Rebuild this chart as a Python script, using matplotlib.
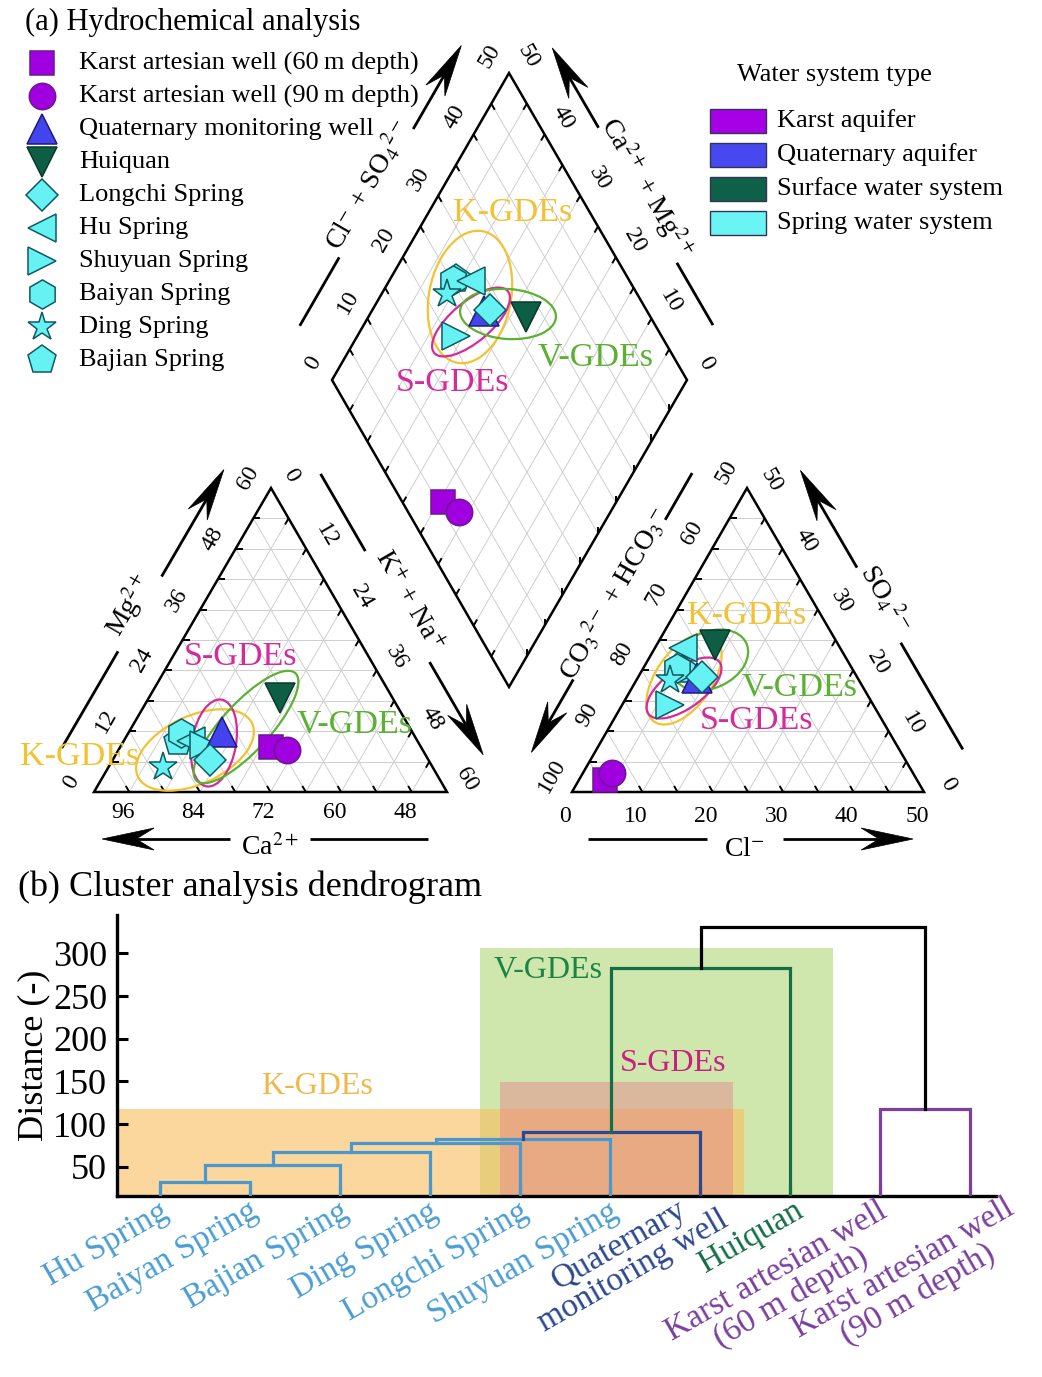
import numpy as np
import matplotlib
matplotlib.use('Agg')
import matplotlib.pyplot as plt
from matplotlib.patches import Ellipse, Rectangle, Polygon
from matplotlib.transforms import ScaledTranslation

plt.rcParams['font.family'] = ['Liberation Serif', 'DejaVu Serif']
plt.rcParams['mathtext.fontset'] = 'stix'

# ---------------- data ----------------
samples = ['Karst artesian well (60 m depth)', 'Karst artesian well (90 m depth)',
           'Quaternary monitoring well', 'Huiquan', 'Longchi Spring', 'Hu Spring',
           'Shuyuan Spring', 'Baiyan Spring', 'Ding Spring', 'Bajian Spring']
# cations (meq %)
mg_pct = np.array([8.9, 8.3, 11.8, 18.6, 6.3, 10.0, 9.3, 11.6, 4.9, 9.9])
nak_pct = np.array([25.6, 28.7, 15.9, 22.3, 16.6, 11.5, 14.0, 8.9, 9.2, 9.3])
ca_pct = 100 - mg_pct - nak_pct
# anions (meq %)
so4_pct = np.array([2.0, 3.1, 18.7, 24.2, 18.9, 23.7, 14.3, 20.4, 18.4, 20.1])
cl_pct = np.array([3.7, 4.1, 8.4, 8.3, 9.1, 4.0, 6.8, 4.8, 4.8, 5.7])
hco3_pct = 100 - so4_pct - cl_pct

water_types = ['Karst aquifer', 'Quaternary aquifer', 'Surface water system', 'Spring water system']
type_colors = ['#a800e6', '#4848f0', '#0e6048', '#6af4f4']

# dendrogram
leaves = ['Hu Spring', 'Baiyan Spring', 'Bajian Spring', 'Ding Spring', 'Longchi Spring',
          'Shuyuan Spring', 'Quaternary\nmonitoring well', 'Huiquan',
          'Karst artesian well\n(60 m depth)', 'Karst artesian well\n(90 m depth)']
# (child a, child b, distance); ids >= 10 refer to earlier merges
merges = [(0, 1, 32.0), (10, 2, 52.0), (11, 3, 67.6), (12, 4, 77.4), (13, 5, 82.0),
          (14, 6, 90.6), (15, 7, 283.2), (8, 9, 117.3), (16, 17, 330.6)]
yticks = [50, 100, 150, 200, 250, 300]

# ---------------- styles ----------------
spring_face, spring_edge = '#66f2f2', '#0e5a62'
mstyle = [
    dict(marker='s', ms=17, mfc='#a000e0', mec='#6a1a8a'),
    dict(marker='o', ms=19, mfc='#a000e0', mec='#6a1a8a'),
    dict(marker='^', ms=22, mfc='#4444ee', mec='#1c1c7a'),
    dict(marker='v', ms=22, mfc='#0d5e45', mec='#073a2a'),
    dict(marker='D', ms=16.5, mfc=spring_face, mec=spring_edge),
    dict(marker='<', ms=20, mfc=spring_face, mec=spring_edge),
    dict(marker='>', ms=20, mfc=spring_face, mec=spring_edge),
    dict(marker='h', ms=21, mfc=spring_face, mec=spring_edge),
    dict(marker='*', ms=21, mfc=spring_face, mec=spring_edge),
    dict(marker='p', ms=21.5, mfc=spring_face, mec=spring_edge),
]
COL_K, COL_S, COL_V = '#f2c232', '#d42a9c', '#5cb032'
GRID = '#cfcfcf'
TICKFS = 17
AXFS = 20
LEGFS = 19

fig = plt.figure(figsize=(10.42, 13.77), dpi=100)
H_TOP = 870
ax = fig.add_axes([0, 1 - H_TOP / 1377, 1, H_TOP / 1377])
ax.set_xlim(0, 1042)
ax.set_ylim(H_TOP, 0)
ax.axis('off')

# ---------------- geometry (pixel layout) ----------------
C_BL, C_BR, C_TOP = np.array([94., 792.]), np.array([447., 792.]), np.array([271., 488.])
A_BL, A_BR, A_TOP = np.array([572., 792.]), np.array([924., 792.]), np.array([747., 488.])
D_L, D_T, D_R, D_B = np.array([332., 380.]), np.array([509., 73.]), np.array([687., 380.]), np.array([509., 687.])
CAT_RANGE, AN_RANGE, DIA_RANGE = 60.0, 50.0, 50.0


def cat_xy(mg, nak):
    return C_BL + (mg / CAT_RANGE)[..., None] * (C_TOP - C_BL) + (nak / CAT_RANGE)[..., None] * (C_BR - C_BL)


def an_xy(so4, cl):
    return A_BL + (so4 / AN_RANGE)[..., None] * (A_TOP - A_BL) + (cl / AN_RANGE)[..., None] * (A_BR - A_BL)


def dia_xy(clso4, nak):
    return D_L + (clso4 / DIA_RANGE)[..., None] * (D_T - D_L) + (nak / DIA_RANGE)[..., None] * (D_B - D_L)


def seg(p, q, **kw):
    ax.plot([p[0], q[0]], [p[1], q[1]], solid_capstyle='butt', **kw)


def tri_frame(P1, P2, P3):
    for i in range(1, 10):
        f = i / 10
        for a, b, c in [(P1, P2, P3), (P2, P3, P1), (P3, P1, P2)]:
            seg(a + f * (b - a), a + f * (c - a), color=GRID, lw=0.7, zorder=1)
    ax.add_patch(Polygon([P1, P2, P3], closed=True, fill=False, ec='black', lw=1.8, zorder=3,
                         joinstyle='miter'))


def ticks_on(P0, P1, dirvec, n=10, L=7):
    d = dirvec / np.linalg.norm(dirvec)
    for i in range(1, n):
        p = P0 + i / n * (P1 - P0)
        seg(p, p + L * d, color='black', lw=1.4, zorder=3)


# triangles
tri_frame(C_BL, C_BR, C_TOP)
tri_frame(A_BL, A_BR, A_TOP)
ticks_on(C_BL, C_BR, C_TOP - C_BR)
ticks_on(C_BL, C_TOP, C_BR - C_BL)
ticks_on(C_TOP, C_BR, C_BL - C_TOP)
ticks_on(A_BL, A_BR, A_TOP - A_BR)
ticks_on(A_BL, A_TOP, A_BR - A_BL)
ticks_on(A_TOP, A_BR, A_BL - A_TOP)

# diamond
for i in range(1, 10):
    f = i / 10
    seg(D_L + f * (D_B - D_L), D_T + f * (D_R - D_T), color=GRID, lw=0.7, zorder=1)
    seg(D_L + f * (D_T - D_L), D_B + f * (D_R - D_B), color=GRID, lw=0.7, zorder=1)
ax.add_patch(Polygon([D_L, D_T, D_R, D_B], closed=True, fill=False, ec='black', lw=1.8, zorder=3,
                     joinstyle='miter'))
ticks_on(D_L, D_T, D_B - D_L)
ticks_on(D_T, D_R, D_B - D_R)
ticks_on(D_L, D_B, D_T - D_L)
ticks_on(D_B, D_R, D_T - D_B)


# ---------------- tick labels ----------------
def lab(p, s, off, rot, fs=TICKFS):
    ax.text(p[0] + off[0], p[1] + off[1], s, rotation=rot, ha='center', va='center',
            fontsize=fs, rotation_mode='anchor', zorder=5)


for v in [96, 84, 72, 60, 48]:
    lab(C_BL + (100 - v) / CAT_RANGE * (C_BR - C_BL), str(v), (5, 21), 0)
for v in [0, 12, 24, 36, 48, 60]:
    lab(C_BL + v / CAT_RANGE * (C_TOP - C_BL), str(v), (-23, -10), 60)
    lab(C_TOP + v / CAT_RANGE * (C_BR - C_TOP), str(v), (20, -13), -60)
for v in [0, 10, 20, 30, 40, 50]:
    lab(A_BL + v / AN_RANGE * (A_BR - A_BL), str(v), (-7, 25), 0)
    lab(A_BR + v / AN_RANGE * (A_TOP - A_BR), str(v), (24, -8), -60)
    lab(D_L + v / DIA_RANGE * (D_T - D_L), str(v), (-19, -17), 60)
    lab(D_R + v / DIA_RANGE * (D_T - D_R), str(v), (19, -17), -60)
for v in [100, 90, 80, 70, 60, 50]:
    lab(A_BL + (100 - v) / AN_RANGE * (A_TOP - A_BL), str(v), (-20, -16), 60)


# ---------------- axis arrows ----------------
def arrow_axis(P0, P1, t0, g0, g1, t1, d, label, tl, dl, rot, normal_sign=1):
    e = P1 - P0
    u = e / np.linalg.norm(e)
    nrm = np.array([u[1], -u[0]]) * normal_sign
    base = lambda t, dd=d: P0 + t * e + dd * nrm
    seg(base(t0), base(g0), color='black', lw=2.0, zorder=3)
    tip = base(t1)
    L, W, notch = 52, 11, 18
    seg(base(g1), tip - (L - notch) * u, color='black', lw=2.0, zorder=3)
    w = np.array([-u[1], u[0]])
    head = [tip, tip - L * u + W * w, tip - (L - notch) * u, tip - L * u - W * w]
    ax.add_patch(Polygon(head, closed=True, fc='black', ec='black', lw=0.5, zorder=4))
    p = P0 + tl * e + dl * nrm
    ax.text(p[0], p[1], label, rotation=rot, ha='center', va='center', fontsize=AXFS,
            rotation_mode='anchor', zorder=5)


def pick_sign(P0, P1, centroid):
    e = P1 - P0
    u = e / np.linalg.norm(e)
    nrm = np.array([u[1], -u[0]])
    mid = (P0 + P1) / 2
    return 1 if np.dot(mid - centroid, nrm) > 0 else -1


cc = (C_BL + C_BR + C_TOP) / 3
ac = (A_BL + A_BR + A_TOP) / 3
dc = (D_L + D_R) / 2
specs = [
    (C_BR, C_BL, 0.054, 0.388, 0.615, 0.977, 47, r'Ca$^{2+}$', 0.50, 56, 0, cc),
    (C_BL, C_TOP, 0.062, 0.38, 0.626, 0.978, 50, r'Mg$^{2+}$', 0.51, 64, 60, cc),
    (C_TOP, C_BR, 0.036, 0.29, 0.655, 0.96, 50, r'K$^{+}$ + Na$^{+}$', 0.474, 62, -60, cc),
    (A_BL, A_BR, 0.045, 0.384, 0.60, 0.969, 47, r'Cl$^{-}$', 0.49, 58, 0, ac),
    (A_TOP, A_BL, 0.041, 0.195, 0.72, 0.96, 55, r'CO$_3$$^{2-}$ + HCO$_3$$^{-}$', 0.45, 62, 60, ac),
    (A_BR, A_TOP, 0.049, 0.40, 0.647, 0.967, 55, r'SO$_4$$^{2-}$', 0.53, 64, -60, ac),
    (D_L, D_T, 0.087, 0.31, 0.728, 1.0, 55, r'Cl$^{-}$ + SO$_4$$^{2-}$', 0.528, 66, 60, dc),
    (D_R, D_T, 0.097, 0.30, 0.74, 1.0, 50, r'Ca$^{2+}$ + Mg$^{2+}$', 0.527, 62, -60, dc),
]
for P0, P1, t0, g0, g1, t1, d, labl, tl, dl, rot, cen in specs:
    arrow_axis(P0, P1, t0, g0, g1, t1, d, labl, tl, dl, rot, pick_sign(P0, P1, cen))

# ---------------- ellipses + group labels ----------------
ellipses = [  # centre, semi-major, semi-minor, screen angle, colour
    ((195, 750), 63, 34, 25, COL_K), ((214, 743), 44, 22, 80, COL_S), ((246, 727), 73, 24, 47.5, COL_V),
    ((470, 297), 67, 41, 79, COL_K), ((471, 322), 48, 20, 40, COL_S), ((508, 314), 48, 25, -4, COL_V),
    ((684, 679), 52, 28, 55, COL_K), ((684, 688), 44, 20, 36, COL_S), ((710, 660), 40, 28, 25, COL_V),
]
for (cx, cy), a, b, ang, col in ellipses:
    ax.add_patch(Ellipse((cx, cy), 2 * a, 2 * b, angle=-ang, fill=False, ec=col, lw=1.6, zorder=6))

grp_labels = [((80, 757), 'K-GDEs', COL_K), ((240, 657), 'S-GDEs', COL_S), ((355, 724), 'V-GDEs', COL_V),
              ((513, 213), 'K-GDEs', COL_K), ((452, 383), 'S-GDEs', COL_S), ((596, 357), 'V-GDEs', COL_V),
              ((747, 616), 'K-GDEs', COL_K), ((800, 687), 'V-GDEs', COL_V), ((757, 721), 'S-GDEs', COL_S)]
for (x, y), s, col in grp_labels:
    ax.text(x, y, s, color=col, fontsize=24.5, ha='center', va='center', zorder=7)

# ---------------- sample markers ----------------
cat_pts = cat_xy(mg_pct, nak_pct)
an_pts = an_xy(so4_pct, cl_pct)
dia_pts = dia_xy(so4_pct + cl_pct, nak_pct)
order = [0, 1, 3, 9, 7, 8, 5, 6, 2, 4]
for i in order:
    st = mstyle[i]
    for pts in (cat_pts, an_pts, dia_pts):
        ax.plot(pts[i, 0], pts[i, 1], linestyle='none', mew=1.1, zorder=8, **st)

# ---------------- legends ----------------
ax.text(25, 22, '(a) Hydrochemical analysis', fontsize=22, ha='left', va='center')
for k, name in enumerate(samples):
    y = 63 + 33 * k
    ax.plot(42, y, linestyle='none', mew=1.1, zorder=8, **mstyle[k])
    ax.text(79, y, name.replace(' m ', '\u2009m '), fontsize=LEGFS, ha='left', va='center')

ax.text(737, 75, 'Water system type', fontsize=LEGFS, ha='left', va='center')
for k, (name, col) in enumerate(zip(water_types, type_colors)):
    y = 121 + 34 * k
    ax.add_patch(Rectangle((710, y - 12), 56, 24, fc=col, ec='#333355', lw=1.0))
    ax.text(777, y, name, fontsize=LEGFS, ha='left', va='center')

# ---------------- dendrogram ----------------
fig.text(18 / 1042, 1 - 887 / 1377, '(b) Cluster analysis dendrogram', fontsize=26, ha='left', va='center')
axd = fig.add_axes([117 / 1042, (1377 - 1196) / 1377, (996 - 117) / 1042, (1196 - 915) / 1377])
axd.set_xlim(0.52, 10.29)
axd.set_ylim(15.6, 345)
for s in ['top', 'right']:
    axd.spines[s].set_visible(False)
for s in ['left', 'bottom']:
    axd.spines[s].set_linewidth(2.4)
axd.set_yticks(yticks)
axd.set_yticklabels([str(v) for v in yticks], fontsize=26)
axd.set_xticks(np.arange(1, 11))
axd.set_xticklabels([''] * 10)
axd.tick_params(direction='in', length=8, width=2.2, pad=7)
axd.set_ylabel('Distance (-)', fontsize=26, labelpad=2)

# shaded groups: (x0, x1, top), in leaf units / distance
axd.add_patch(Rectangle((4.56, 0), 8.48 - 4.56, 306.6, fc='#bfe090', alpha=0.75, lw=0, zorder=0))
axd.add_patch(Rectangle((0.52, 0), 7.49 - 0.52, 117.3, fc='#f9bc5c', alpha=0.6, lw=0, zorder=0.1))
axd.add_patch(Rectangle((4.78, 0), 7.37 - 4.78, 149.6, fc='#e8808c', alpha=0.45, lw=0, zorder=0.2))
axd.text(2.74, 143.4, 'K-GDEs', color='#f0b848', fontsize=23, ha='center', va='center')
axd.text(5.31, 280.5, 'V-GDEs', color='#1a8444', fontsize=23, ha='center', va='center')
axd.text(6.70, 171.5, 'S-GDEs', color='#c8207c', fontsize=23, ha='center', va='center')

link_cols = ['#4b98cc'] * 5 + ['#2c4890', '#166e48', '#7b3f9e', '#000000']
pos = {i: (i + 1.0, 0.0) for i in range(10)}
for k, (a, b, h) in enumerate(merges):
    xa, ha_ = pos[a]
    xb, hb = pos[b]
    axd.plot([xa, xa, xb, xb], [ha_, h, h, hb], color=link_cols[k], lw=2.3, zorder=3,
             solid_joinstyle='miter')
    pos[10 + k] = ((xa + xb) / 2, h)

leaf_cols = ['#4b9ed2'] * 6 + ['#2c4890', '#166e48', '#7b3f9e', '#7b3f9e']
leaf_dx = [-2, -2, -2, -2, -2, -2, 4, 3, -3, 34]
leaf_dy = [0, 0, 0, 0, 0, 0, 17, 1, 0, 3]
for i, (name, col) in enumerate(zip(leaves, leaf_cols)):
    tr = axd.get_xaxis_transform() + ScaledTranslation(leaf_dx[i] / 100, leaf_dy[i] / 100, fig.dpi_scale_trans)
    axd.text(i + 1, 0, name, transform=tr, rotation=30, rotation_mode='anchor', ha='right', va='top',
             color=col, fontsize=24, multialignment='center', linespacing=0.95)

fig.savefig('out.png', dpi=100)
